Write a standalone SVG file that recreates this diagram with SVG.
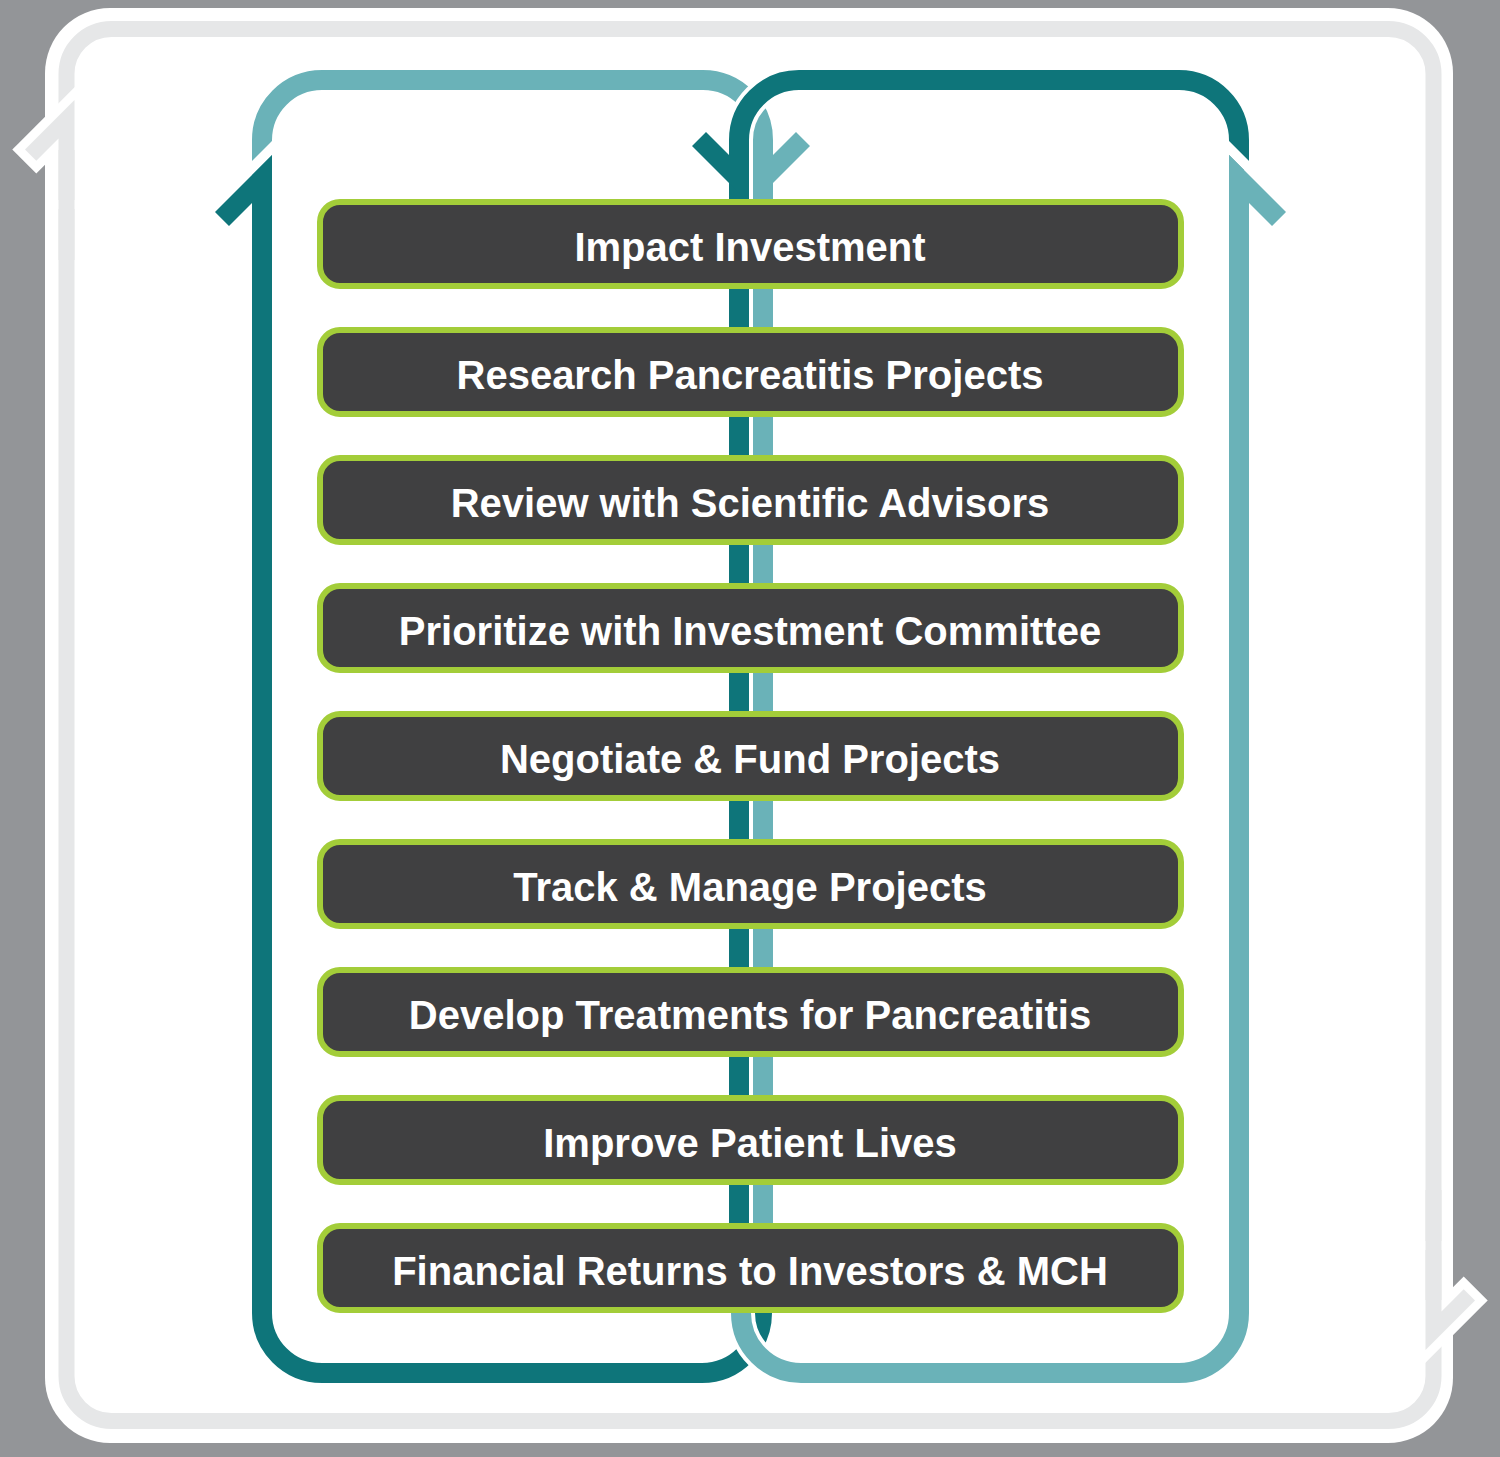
<svg xmlns="http://www.w3.org/2000/svg" width="1500" height="1457" viewBox="0 0 1500 1457">
<style>
.dk{fill:none;stroke:#0e757a;stroke-width:20}
.lt{fill:none;stroke:#6ab2b8;stroke-width:20}
.wo{fill:none;stroke:#fff;stroke-width:28}
.gap{stroke:#fff;stroke-width:10}
.fr{fill:none;stroke:#e6e7e8;stroke-width:16}
.chev{fill:#e6e7e8;stroke:#fff;stroke-width:18;stroke-linejoin:miter;paint-order:stroke}
.box rect{fill:#404041;stroke:#a3cd39;stroke-width:6}
.box text{fill:#fff;font-family:"Liberation Sans",Arial,sans-serif;font-weight:bold;font-size:40px;text-anchor:middle}
</style>
<rect width="1500" height="1457" fill="#939598"/>
<rect x="45" y="8" width="1408" height="1435" rx="65" fill="#fff"/>
<g id="frame">
<rect x="66.5" y="29" width="1367" height="1392" rx="45" class="fr"/>
<polygon class="chev" points="25,149.5 74.5,100 74.5,200 58.5,200 58.5,138.6 36.3,160.8"/>
<line class="fr" x1="66.5" y1="150" x2="66.5" y2="260"/>
<polygon class="chev" points="1475,1300.5 1425.5,1350 1425.5,1250 1441.5,1250 1441.5,1311.4 1463.7,1289.2"/>
<line class="fr" x1="1433.5" y1="1300" x2="1433.5" y2="1190"/>
</g>
<g id="connectors">
<path class="lt" d="M262,175 V140 A60,60 0 0 1 322,80 H703 A60,60 0 0 1 763,140 V1270 L741,1290 V1313 A60,60 0 0 0 801,1373 H1179 A60,60 0 0 0 1239,1313 V200"/>
<path class="dk" d="M1239,170 V140 A60,60 0 0 0 1179,80 H799 A60,60 0 0 0 739,140 V1270 L762,1290 V1313 A60,60 0 0 1 702,1373 H322 A60,60 0 0 1 262,1313 V200"/>
<path class="wo" d="M812,80 H799 A60,60 0 0 0 739,140"/>
<path class="dk" d="M812,80 H799 A60,60 0 0 0 739,140"/>
<path class="wo" d="M741,1313 A60,60 0 0 0 801,1373 H815"/>
<path class="lt" d="M741,1313 A60,60 0 0 0 801,1373 H815"/>
<line class="gap" x1="247" y1="173" x2="279" y2="141"/>
<line class="gap" x1="1222" y1="141" x2="1254" y2="173"/>
<polygon fill="#0e757a" points="215,212 272,155 272,260 252,260 252,203 229,226"/>
<polygon fill="#6ab2b8" points="1286,212 1229,155 1229,260 1249,260 1249,203 1272,226"/>
<polygon fill="#0e757a" points="692,146 749,203 749,140 729,140 729,155 706,132"/>
<polygon fill="#6ab2b8" points="810,146 753,203 753,140 773,140 773,155 796,132"/>
</g>
<g id="n1" class="box"><rect x="320" y="202" width="861" height="84" rx="20"/><text x="750" y="261">Impact Investment</text></g>
<g id="n2" class="box"><rect x="320" y="330" width="861" height="84" rx="20"/><text x="750" y="389">Research Pancreatitis Projects</text></g>
<g id="n3" class="box"><rect x="320" y="458" width="861" height="84" rx="20"/><text x="750" y="517">Review with Scientific Advisors</text></g>
<g id="n4" class="box"><rect x="320" y="586" width="861" height="84" rx="20"/><text x="750" y="645">Prioritize with Investment Committee</text></g>
<g id="n5" class="box"><rect x="320" y="714" width="861" height="84" rx="20"/><text x="750" y="773">Negotiate &amp; Fund Projects</text></g>
<g id="n6" class="box"><rect x="320" y="842" width="861" height="84" rx="20"/><text x="750" y="901">Track &amp; Manage Projects</text></g>
<g id="n7" class="box"><rect x="320" y="970" width="861" height="84" rx="20"/><text x="750" y="1029">Develop Treatments for Pancreatitis</text></g>
<g id="n8" class="box"><rect x="320" y="1098" width="861" height="84" rx="20"/><text x="750" y="1157">Improve Patient Lives</text></g>
<g id="n9" class="box"><rect x="320" y="1226" width="861" height="84" rx="20"/><text x="750" y="1285">Financial Returns to Investors &amp; MCH</text></g>
</svg>
